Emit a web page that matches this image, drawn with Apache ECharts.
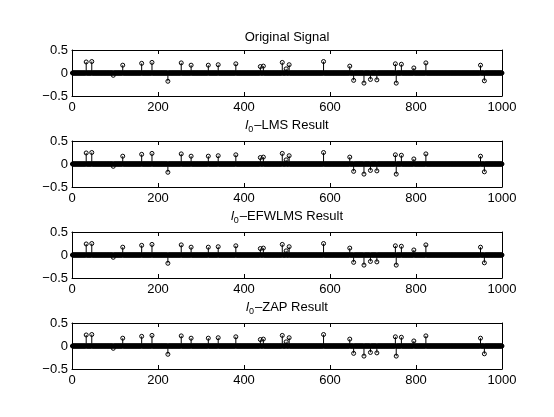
<!DOCTYPE html>
<html>
<head>
<meta charset="utf-8">
<script src="https://cdn.jsdelivr.net/npm/echarts@6/dist/echarts.min.js"></script>
<style>
  html, body { margin: 0; padding: 0; background: #fff; }
  #main { width: 554px; height: 417px; }
</style>
</head>
<body>
<div id="main"></div>
<script>
// sparse signal: sample index of every spike and its amplitude
var signalLength = 1000;
var spikeIdx = [33, 46, 96, 118, 162, 186, 223, 254, 277, 317, 340, 381, 438, 445, 489, 498, 505,
  585, 646, 655, 679, 694, 709, 752, 754, 766, 795, 823, 950, 959];
var spikeVal = [0.24, 0.25, -0.05, 0.17, 0.21, 0.23, -0.18, 0.22, 0.17, 0.17, 0.18, 0.20, 0.14, 0.15, 0.23, 0.09, 0.18,
  0.25, 0.15, -0.16, -0.22, -0.14, -0.15, 0.20, -0.22, 0.19, 0.11, 0.22, 0.17, -0.17];

// the four panels (original + three recoveries look the same in the figure)
var panelTitles = ['Original Signal', '{it|l}{sub|0}{n|\u2013LMS Result}', '{it|l}{sub|0}{n|\u2013EFWLMS Result}', '{it|l}{sub|0}{n|\u2013ZAP Result}'];
var xTicks = [0, 200, 400, 600, 800, 1000];
var yTicks = [-0.5, 0, 0.5];

// full signal, zero everywhere except spikes
var signal = [];
for (var k = 1; k <= signalLength; k++) {
  signal.push([k, 0]);
}
for (var s = 0; s < spikeIdx.length; s++) {
  signal[spikeIdx[s] - 1][1] = spikeVal[s];
}
var stems = [];
for (var s = 0; s < spikeIdx.length; s++) {
  stems.push([spikeIdx[s], spikeVal[s]]);
}

var font = '"Liberation Sans", Arial, Helvetica, sans-serif';
var gridTops = [50, 141, 232, 323];
var grids = [], xAxes = [], yAxes = [], titles = [], series = [];

function minusSign(v) {
  return v === 0 ? '0' : String(v).replace('-', '\u2212');
}

gridTops.forEach(function (top, i) {
  grids.push({ left: 72, right: 52, top: top, height: 46 });

  var xBase = {
    gridIndex: i, type: 'value', min: xTicks[0], max: xTicks[xTicks.length - 1], interval: 200,
    axisLine: { show: true, onZero: false, lineStyle: { color: '#000', width: 1 } },
    axisTick: { show: true, inside: true, length: 4, lineStyle: { color: '#000' } },
    splitLine: { show: false }
  };
  xAxes.push(Object.assign({}, xBase, {
    position: 'bottom',
    axisLabel: { show: true, margin: 5, color: '#000', fontSize: 13, fontFamily: font,
      formatter: function (v) { return String(v); } }
  }));
  xAxes.push(Object.assign({}, xBase, { position: 'top', axisLabel: { show: false } }));

  var yBase = {
    gridIndex: i, type: 'value', min: yTicks[0], max: yTicks[yTicks.length - 1], interval: 0.5,
    axisLine: { show: true, onZero: false, lineStyle: { color: '#000', width: 1 } },
    axisTick: { show: true, inside: true, length: 4, lineStyle: { color: '#000' } },
    splitLine: { show: false }
  };
  yAxes.push(Object.assign({}, yBase, {
    position: 'left',
    axisLabel: { show: true, margin: 4, color: '#000', fontSize: 13, fontFamily: font, formatter: minusSign }
  }));
  yAxes.push(Object.assign({}, yBase, { position: 'right', axisLabel: { show: false } }));

  titles.push({
    text: panelTitles[i],
    left: 287, textAlign: 'center',
    top: i === 0 ? top - 19 : top - 25,
    padding: 0,
    textStyle: {
      color: '#000', fontSize: 13, fontWeight: 'normal', fontFamily: font,
      rich: {
        it: { fontSize: 13, fontStyle: 'italic', fontFamily: font, color: '#000' },
        sub: { fontSize: 9, fontFamily: font, color: '#000', padding: [9, 1, 0, 0] },
        n: { fontSize: 13, fontFamily: font, color: '#000' }
      }
    }
  });

  // stems
  series.push({
    type: 'custom',
    xAxisIndex: i * 2, yAxisIndex: i * 2,
    data: stems,
    silent: true,
    renderItem: function (params, api) {
      var p0 = api.coord([api.value(0), 0]);
      var p1 = api.coord([api.value(0), api.value(1)]);
      return {
        type: 'line',
        shape: { x1: p0[0], y1: p0[1], x2: p1[0], y2: p1[1] },
        style: { stroke: '#000', lineWidth: 1 }
      };
    },
    z: 2
  });
  // circle heads for every sample
  series.push({
    type: 'scatter',
    xAxisIndex: i * 2, yAxisIndex: i * 2,
    data: signal,
    symbol: 'circle',
    symbolSize: 4,
    silent: true,
    itemStyle: { color: 'rgba(0,0,0,0)', borderColor: '#000', borderWidth: 1, opacity: 1 },
    z: 3
  });
});

var chart = echarts.init(document.getElementById('main'), null, { renderer: 'canvas' });
chart.setOption({
  animation: false,
  backgroundColor: '#fff',
  title: titles,
  grid: grids,
  xAxis: xAxes,
  yAxis: yAxes,
  series: series
});
</script>
</body>
</html>
